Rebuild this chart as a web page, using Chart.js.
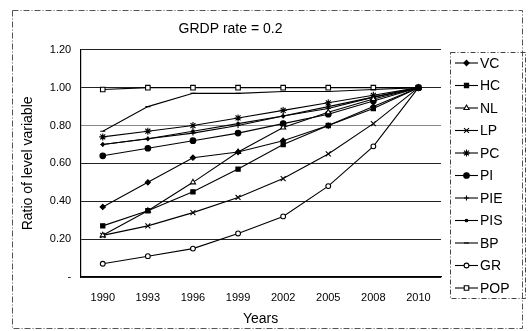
<!DOCTYPE html>
<html>
<head>
<meta charset="utf-8">
<script src="https://cdn.jsdelivr.net/npm/chart.js@4"></script>
<style>
  body { margin: 0; background: #fff; }
  canvas { display: block; }
</style>
</head>
<body>
<canvas id="chart" width="529" height="331"></canvas>
<script>
const years = ["1990", "1993", "1996", "1999", "2002", "2005", "2008", "2010"];

const vc  = [0.37, 0.50, 0.63, 0.66, 0.72, 0.80, 0.90, 1.00];
const hc  = [0.27, 0.35, 0.45, 0.57, 0.70, 0.80, 0.89, 1.00];
const nl  = [0.22, 0.35, 0.50, 0.66, 0.79, 0.87, 0.94, 1.00];
const lp  = [0.22, 0.27, 0.34, 0.42, 0.52, 0.65, 0.81, 1.00];
const pc  = [0.74, 0.77, 0.80, 0.84, 0.88, 0.92, 0.96, 1.00];
const pi  = [0.64, 0.68, 0.72, 0.76, 0.81, 0.86, 0.93, 1.00];
const pie = [0.70, 0.73, 0.76, 0.80, 0.85, 0.89, 0.95, 1.00];
const pis = [0.70, 0.73, 0.77, 0.81, 0.85, 0.90, 0.95, 1.00];
const bp  = [0.77, 0.90, 0.97, 0.97, 0.98, 0.98, 0.99, 1.00];
const gr  = [0.07, 0.11, 0.15, 0.23, 0.32, 0.48, 0.69, 1.00];
const pop = [0.99, 1.00, 1.00, 1.00, 1.00, 1.00, 1.00, 1.00];

const yTicks = [0, 0.2, 0.4, 0.6, 0.8, 1.0, 1.2];

function series(label, data, style, radius, fill) {
    return {
        label: label,
        data: data,
        borderColor: "#000",
        borderWidth: 1.1,
        backgroundColor: fill ? "#000" : "#fff",
        pointStyle: style,
        pointRadius: radius,
        pointBorderColor: "#000",
        pointBorderWidth: 1.1,
        pointBackgroundColor: fill ? "#000" : "#fff",
        tension: 0
    };
}

const datasets = [
    series("VC", vc, "rectRot", 2.6, true),
    series("HC", hc, "rect", 3, true),
    series("NL", nl, "triangle", 3, false),
    series("LP", lp, "crossRot", 3.5, false),
    series("PC", pc, "star", 3.5, false),
    series("PI", pi, "circle", 2.8, true),
    series("PIE", pie, "cross", 2.5, false),
    series("PIS", pis, "circle", 1.3, true),
    series("BP", bp, "line", 2.5, false),
    series("GR", gr, "circle", 2.4, false),
    series("POP", pop, "rect", 3.2, false)
];

// dashed outer frame + legend box with line+marker samples
const framePlugin = {
    id: "frame",
    beforeDraw(chart) {
        const ctx = chart.ctx;
        ctx.save();
        ctx.fillStyle = "#fff";
        ctx.fillRect(0, 0, chart.width, chart.height);
        ctx.strokeStyle = "#555";
        ctx.lineWidth = 1;
        ctx.setLineDash([6, 2, 1, 2]);
        ctx.strokeRect(12.5, 10.5, 510, 318);
        ctx.restore();
    },
    afterDraw(chart) {
        const ctx = chart.ctx;
        const x0 = 450, y0 = 52, w = 75, h = 246;
        ctx.save();
        ctx.strokeStyle = "#444";
        ctx.lineWidth = 1;
        ctx.setLineDash([5, 2, 1, 2]);
        ctx.strokeRect(x0 + 0.5, y0 + 0.5, w, h);
        ctx.setLineDash([]);
        ctx.font = "14px 'Liberation Sans', Arial, sans-serif";
        ctx.textBaseline = "middle";
        chart.data.datasets.forEach((ds, i) => {
            const y = y0 + 11 + i * 22.5;
            ctx.strokeStyle = "#000";
            ctx.lineWidth = 1.1;
            ctx.beginPath();
            ctx.moveTo(x0 + 5, y);
            ctx.lineTo(x0 + 28, y);
            ctx.stroke();
            ctx.fillStyle = ds.pointBackgroundColor;
            Chart.helpers.drawPoint(ctx, {
                pointStyle: ds.pointStyle,
                radius: ds.pointRadius,
                rotation: 0,
                borderWidth: 1.1
            }, x0 + 16.5, y);
            ctx.fillStyle = "#000";
            ctx.fillText(ds.label, x0 + 30, y + 1);
        });
        ctx.restore();
    }
};

new Chart(document.getElementById("chart").getContext("2d"), {
    type: "line",
    data: { labels: years, datasets: datasets },
    plugins: [framePlugin],
    options: {
        responsive: false,
        animation: false,
        layout: { padding: { left: 20, right: 88, top: 21, bottom: 3 } },
        plugins: {
            legend: { display: false },
            tooltip: { enabled: false },
            title: {
                display: true,
                text: "GRDP rate = 0.2",
                color: "#000",
                font: { family: "'Liberation Sans', Arial, sans-serif", size: 14, weight: "normal" },
                padding: { top: 0, bottom: 12 }
            }
        },
        scales: {
            x: {
                type: "category",
                offset: true,
                grid: { display: false, drawTicks: false },
                border: { display: true, color: "#000", width: 1.2 },
                ticks: {
                    color: "#000",
                    padding: 14,
                    maxRotation: 0,
                    font: { family: "'Liberation Sans', Arial, sans-serif", size: 11 }
                },
                title: {
                    display: true,
                    text: "Years",
                    color: "#000",
                    padding: { top: -7, bottom: 0 },
                    font: { family: "'Liberation Sans', Arial, sans-serif", size: 14 }
                }
            },
            y: {
                min: 0,
                max: 1.2,
                afterBuildTicks(axis) {
                    axis.ticks = yTicks.map(v => ({ value: v }));
                },
                grid: {
                    color: ctx => (ctx.tick && ctx.tick.value === 0.8 ? "#888" : "#222"),
                    lineWidth: 1,
                    drawTicks: false
                },
                border: { display: true, color: "#000", width: 1.2 },
                ticks: {
                    color: "#000",
                    padding: 9,
                    font: { family: "'Liberation Sans', Arial, sans-serif", size: 11 },
                    callback: v => (v === 0 ? "-" : v.toFixed(2))
                },
                title: {
                    display: true,
                    text: "Ratio of level variable",
                    color: "#000",
                    padding: { top: 0, bottom: 4 },
                    font: { family: "'Liberation Sans', Arial, sans-serif", size: 14 }
                }
            }
        }
    }
});
</script>
</body>
</html>
